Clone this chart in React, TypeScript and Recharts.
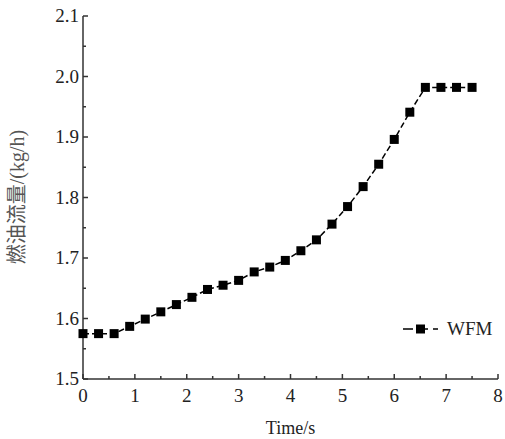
import { Legend, Line, LineChart, XAxis, YAxis } from "recharts";

const times = [0, 0.3, 0.6, 0.9, 1.2, 1.5, 1.8, 2.1, 2.4, 2.7, 3.0, 3.3, 3.6, 3.9, 4.2, 4.5, 4.8, 5.1, 5.4, 5.7, 6.0, 6.3, 6.6, 6.9, 7.2, 7.5];
const wfm = [1.575, 1.575, 1.575, 1.587, 1.599, 1.611, 1.623, 1.635, 1.648, 1.655, 1.663, 1.677, 1.685, 1.696, 1.712, 1.73, 1.756, 1.785, 1.818, 1.855, 1.896, 1.941, 1.982, 1.982, 1.982, 1.982];

const xTicks = [0, 0.5, 1, 1.5, 2, 2.5, 3, 3.5, 4, 4.5, 5, 5.5, 6, 6.5, 7, 7.5, 8];
const yTicks = [1.5, 1.55, 1.6, 1.65, 1.7, 1.75, 1.8, 1.85, 1.9, 1.95, 2.0, 2.05, 2.1];

const data = times.map((t, i) => ({ t, wfm: wfm[i] }));

const FONT = '"Liberation Serif", "DejaVu Serif", serif';
const CJK = '"Liberation Serif", "Noto Sans CJK SC", serif';
const AXIS = "#333";

function XTick(props: any) {
  const { x, y, payload } = props;
  const major = Number.isInteger(payload.value);
  return (
    <g>
      <line x1={x} x2={x} y1={y} y2={y - (major ? 5 : 3)} stroke={AXIS} strokeWidth={1.5} />
      {major && (
        <text x={x} y={y + 23} textAnchor="middle" fontSize={19} fontFamily={FONT} fill="#222">
          {payload.value}
        </text>
      )}
    </g>
  );
}

function YTick(props: any) {
  const { x, y, payload } = props;
  const idx = yTicks.indexOf(payload.value);
  const major = idx % 2 === 0;
  return (
    <g>
      <line x1={x} x2={x + (major ? 5 : 3)} y1={y} y2={y} stroke={AXIS} strokeWidth={1.5} />
      {major && (
        <text x={x - 4} y={y + 6} textAnchor="end" fontSize={19} fontFamily={FONT} fill="#222">
          {payload.value.toFixed(1)}
        </text>
      )}
    </g>
  );
}

function SquareDot(props: any) {
  const { cx, cy } = props;
  if (cx == null || cy == null) return null;
  return <rect x={cx - 4.5} y={cy - 4.5} width={9} height={9} fill="#000" />;
}

function LegendBox() {
  return (
    <svg width={100} height={24}>
      <line x1={3} x2={38} y1={12} y2={12} stroke="#000" strokeWidth={1.5} strokeDasharray="10 5" />
      <rect x={16} y={7.5} width={9} height={9} fill="#000" />
      <text x={47} y={18} fontSize={19} fontFamily={FONT} fill="#222">
        WFM
      </text>
    </svg>
  );
}

export default function App() {
  return (
    <div style={{ position: "absolute", left: 0, top: 0, background: "#fff" }}>
      <LineChart width={505} height={439} data={data} margin={{ top: 16, right: 7, left: 0, bottom: 0 }}>
        <XAxis
          dataKey="t"
          type="number"
          domain={[0, 8]}
          ticks={xTicks}
          interval={0}
          height={60}
          tickSize={0}
          tickMargin={0}
          tickLine={false}
          tick={<XTick />}
          stroke={AXIS}
          strokeWidth={1.5}
          label={{ value: "Time/s", position: "insideBottom", offset: 5, fontSize: 18, fontFamily: FONT, fill: "#222" }}
        />
        <YAxis
          type="number"
          domain={[1.5, 2.1]}
          ticks={yTicks}
          interval={0}
          width={83}
          tickSize={0}
          tickMargin={0}
          tickLine={false}
          tick={<YTick />}
          stroke={AXIS}
          strokeWidth={1.5}
          allowDataOverflow
          label={{
            content: () => (
              <text
                x={17}
                y={197}
                transform="rotate(-90 17 197)"
                textAnchor="middle"
                dominantBaseline="central"
                fontSize={20}
                fontFamily={CJK}
                fill="#555"
              >
                燃油流量/(kg/h)
              </text>
            ),
          }}
        />
        <Legend
          layout="horizontal"
          verticalAlign="middle"
          align="center"
          content={() => <LegendBox />}
          wrapperStyle={{ left: 400, top: 317, width: 100, height: 24 }}
        />
        <Line
          type="linear"
          dataKey="wfm"
          name="WFM"
          stroke="#000"
          strokeWidth={1.5}
          strokeDasharray="6 3"
          dot={<SquareDot />}
          activeDot={false}
          isAnimationActive={false}
        />
      </LineChart>
    </div>
  );
}
